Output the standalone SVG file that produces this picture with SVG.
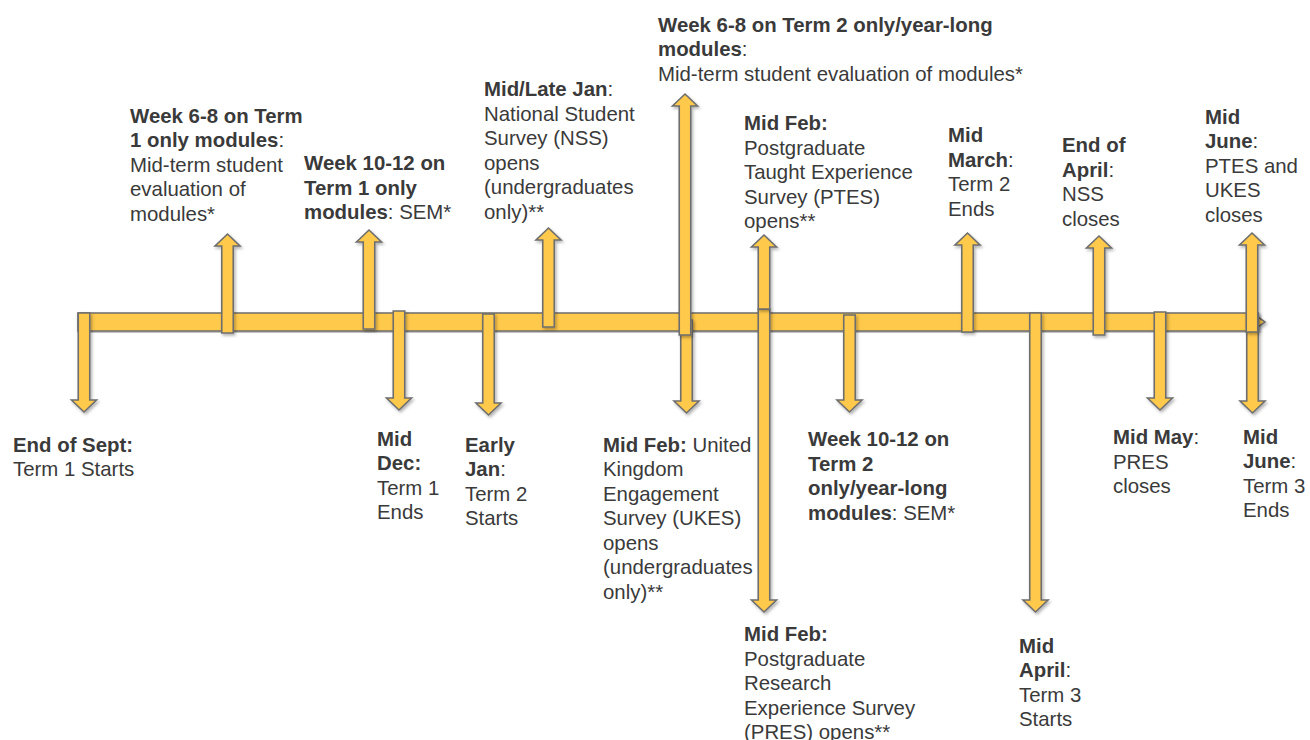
<svg xmlns="http://www.w3.org/2000/svg" width="1310" height="740" viewBox="0 0 1310 740">
<defs>
<filter id="sh" x="-50%" y="-10%" width="200%" height="120%">
<feDropShadow dx="1.5" dy="2" stdDeviation="1.5" flood-color="#000" flood-opacity="0.3"/>
</filter>
</defs>
<style>
.ar{fill:#FFC94B;stroke:#6E6E6E;stroke-width:1.6;stroke-linejoin:miter;filter:url(#sh)}
.t{font-family:"Liberation Sans",Arial,sans-serif;font-size:20.4px;fill:#3A3A3A}
.b{font-weight:bold}
</style>
<rect width="1310" height="740" fill="#fff"/>
<g id="connectors">
<path id="timeline" class="ar" d="M78,313 H1258 V317 L1265,322 L1258,327 V331 H78 Z"/>
<path id="a1" class="ar" d="M78.25,313 V400 H71.5 L84,412 L96.5,400 H89.75 V313 Z"/>
<path id="a2" class="ar" d="M221.75,333 V246 H215 L227.5,234 L240,246 H233.25 V333 Z"/>
<path id="a3" class="ar" d="M363.25,329 V242 H356.5 L369,230 L381.5,242 H374.75 V329 Z"/>
<path id="a4" class="ar" d="M393.25,311 V398 H386.5 L399,410 L411.5,398 H404.75 V311 Z"/>
<path id="a5" class="ar" d="M482.75,314 V403 H476 L488.5,415 L501,403 H494.25 V314 Z"/>
<path id="a6" class="ar" d="M542.75,327 V240 H536 L548.5,228 L561,240 H554.25 V327 Z"/>
<path id="a8" class="ar" d="M680.75,320 V401 H674 L686.5,413 L699,401 H692.25 V320 Z"/>
<path id="a7" class="ar" d="M679.25,335 V106 H672.5 L685,94 L697.5,106 H690.75 V335 Z"/>
<path id="a10" class="ar" d="M758.25,309 V600 H751.5 L764,612 L776.5,600 H769.75 V309 Z"/>
<path id="a9" class="ar" d="M758.25,309 V247 H751.5 L764,235 L776.5,247 H769.75 V309 Z"/>
<path id="a11" class="ar" d="M843.75,315 V400 H837 L849.5,412 L862,400 H855.25 V315 Z"/>
<path id="a12" class="ar" d="M961.75,332 V245 H955 L967.5,233 L980,245 H973.25 V332 Z"/>
<path id="a13" class="ar" d="M1029.75,313 V600 H1023 L1035.5,612 L1048,600 H1041.25 V313 Z"/>
<path id="a14" class="ar" d="M1093.25,335 V248 H1086.5 L1099,236 L1111.5,248 H1104.75 V335 Z"/>
<path id="a15" class="ar" d="M1154.25,312 V398 H1147.5 L1160,410 L1172.5,398 H1165.75 V312 Z"/>
<path id="a17" class="ar" d="M1246.75,313 V401 H1240 L1252.5,413 L1265,401 H1258.25 V313 Z"/>
<path id="a16" class="ar" d="M1246.25,332 V245 H1239.5 L1252,233 L1264.5,245 H1257.75 V332 Z"/>
</g>
<g id="n-week68-t1"><text class="t"><tspan class="b" x="130" y="123">Week 6-8 on Term</tspan><tspan x="130" y="147"><tspan class="b">1 only modules</tspan>:</tspan><tspan x="130" y="172">Mid-term student</tspan><tspan x="130" y="196">evaluation of</tspan><tspan x="130" y="221">modules*</tspan></text></g>
<g id="n-week1012-t1"><text class="t"><tspan class="b" x="304" y="170">Week 10-12 on</tspan><tspan class="b" x="304" y="195">Term 1 only</tspan><tspan x="304" y="219"><tspan class="b">modules</tspan>: SEM*</tspan></text></g>
<g id="n-midlatejan"><text class="t"><tspan x="484" y="96"><tspan class="b">Mid/Late Jan</tspan>:</tspan><tspan x="484" y="120.5">National Student</tspan><tspan x="484" y="145">Survey (NSS)</tspan><tspan x="484" y="169.5">opens</tspan><tspan x="484" y="194">(undergraduates</tspan><tspan x="484" y="218.5">only)**</tspan></text></g>
<g id="n-week68-t2"><text class="t"><tspan class="b" x="658" y="32">Week 6-8 on Term 2 only/year-long</tspan><tspan x="658" y="56"><tspan class="b">modules</tspan>:</tspan><tspan x="658" y="81">Mid-term student evaluation of modules*</tspan></text></g>
<g id="n-ptes-open"><text class="t"><tspan class="b" x="744" y="130">Mid Feb:</tspan><tspan x="744" y="155">Postgraduate</tspan><tspan x="744" y="179">Taught Experience</tspan><tspan x="744" y="204">Survey (PTES)</tspan><tspan x="744" y="228">opens**</tspan></text></g>
<g id="n-midmarch"><text class="t"><tspan class="b" x="948" y="142">Mid</tspan><tspan x="948" y="167"><tspan class="b">March</tspan>:</tspan><tspan x="948" y="191">Term 2</tspan><tspan x="948" y="216">Ends</tspan></text></g>
<g id="n-endapril"><text class="t"><tspan class="b" x="1062" y="152">End of</tspan><tspan x="1062" y="177"><tspan class="b">April</tspan>:</tspan><tspan x="1062" y="201">NSS</tspan><tspan x="1062" y="226">closes</tspan></text></g>
<g id="n-midjune-close"><text class="t"><tspan class="b" x="1205" y="124">Mid</tspan><tspan x="1205" y="148"><tspan class="b">June</tspan>:</tspan><tspan x="1205" y="173">PTES and</tspan><tspan x="1205" y="197">UKES</tspan><tspan x="1205" y="222">closes</tspan></text></g>
<g id="n-endsept"><text class="t"><tspan class="b" x="13" y="452">End of Sept:</tspan><tspan x="13" y="476">Term 1 Starts</tspan></text></g>
<g id="n-middec"><text class="t"><tspan class="b" x="377" y="446">Mid</tspan><tspan class="b" x="377" y="470">Dec:</tspan><tspan x="377" y="495">Term 1</tspan><tspan x="377" y="519">Ends</tspan></text></g>
<g id="n-earlyjan"><text class="t"><tspan class="b" x="465" y="452">Early</tspan><tspan x="465" y="476"><tspan class="b">Jan</tspan>:</tspan><tspan x="465" y="501">Term 2</tspan><tspan x="465" y="525">Starts</tspan></text></g>
<g id="n-ukes"><text class="t"><tspan x="603" y="452"><tspan class="b">Mid Feb:</tspan> United</tspan><tspan x="603" y="476">Kingdom</tspan><tspan x="603" y="501">Engagement</tspan><tspan x="603" y="525">Survey (UKES)</tspan><tspan x="603" y="550">opens</tspan><tspan x="603" y="574">(undergraduates</tspan><tspan x="603" y="599">only)**</tspan></text></g>
<g id="n-week1012-t2"><text class="t"><tspan class="b" x="808" y="446">Week 10-12 on</tspan><tspan class="b" x="808" y="471">Term 2</tspan><tspan class="b" x="808" y="495">only/year-long</tspan><tspan x="808" y="520"><tspan class="b">modules</tspan>: SEM*</tspan></text></g>
<g id="n-midmay"><text class="t"><tspan x="1113" y="444"><tspan class="b">Mid May</tspan>:</tspan><tspan x="1113" y="469">PRES</tspan><tspan x="1113" y="493">closes</tspan></text></g>
<g id="n-midjune-end"><text class="t"><tspan class="b" x="1243" y="444">Mid</tspan><tspan x="1243" y="468"><tspan class="b">June</tspan>:</tspan><tspan x="1243" y="493">Term 3</tspan><tspan x="1243" y="517">Ends</tspan></text></g>
<g id="n-pres"><text class="t"><tspan class="b" x="744" y="641">Mid Feb:</tspan><tspan x="744" y="666">Postgraduate</tspan><tspan x="744" y="690">Research</tspan><tspan x="744" y="715">Experience Survey</tspan><tspan x="744" y="739">(PRES) opens**</tspan></text></g>
<g id="n-midapril"><text class="t"><tspan class="b" x="1019" y="653">Mid</tspan><tspan x="1019" y="677"><tspan class="b">April</tspan>:</tspan><tspan x="1019" y="702">Term 3</tspan><tspan x="1019" y="726">Starts</tspan></text></g>
</svg>
